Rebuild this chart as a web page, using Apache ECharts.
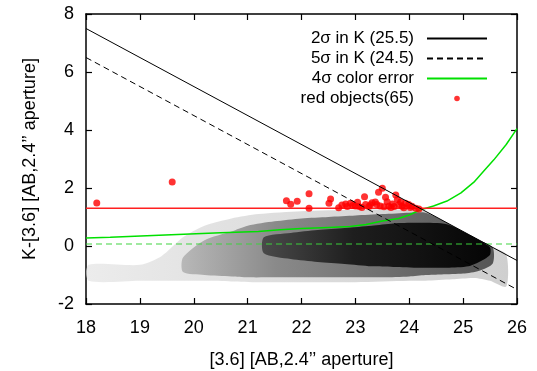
<!DOCTYPE html>
<html>
<head>
<meta charset="utf-8">
<script src="https://cdn.jsdelivr.net/npm/echarts@6/dist/echarts.min.js"></script>
<style>html,body{margin:0;padding:0;background:#fff;}#c{width:537px;height:371px;}</style>
</head>
<body>
<div id="c"></div>
<script>
// ---- data ----
var xTicks = [18, 19, 20, 21, 22, 23, 24, 25, 26];
var yTicks = [-2, 0, 2, 4, 6, 8];
// K-limit lines: K-[3.6] = K_lim - [3.6]
var limitX = [18, 26];
var limit2sig = [7.5, -0.5];   // K = 25.5
var limit5sig = [6.5, -1.5];   // K = 24.5
var redCut = 1.3;
var colorErrDashed = 0.07;
// 4 sigma colour error curve
var errX = [18.0, 18.45, 18.46, 19.47, 19.48, 20.5, 21.2, 21.6, 22.0, 22.5, 22.9, 23.2, 23.5, 23.8, 24.0, 24.2, 24.45, 24.7, 24.96, 25.2, 25.4, 25.57, 25.8, 26.0];
var errY = [0.28, 0.30, 0.36, 0.38, 0.42, 0.46, 0.50, 0.56, 0.60, 0.64, 0.67, 0.74, 0.86, 0.95, 1.07, 1.24, 1.38, 1.55, 1.83, 2.2, 2.62, 2.97, 3.5, 4.05];
// red objects
var redX = [18.2, 19.6, 21.72, 21.80, 21.92, 22.14, 22.14, 22.54, 22.51, 22.69, 22.82, 22.85, 22.91, 23.04, 23.07, 23.17, 23.19, 23.25, 23.31, 23.37, 23.40, 23.43, 23.50, 23.56, 23.59, 23.62, 23.69, 23.75, 23.78, 23.81, 23.87, 23.93, 23.99, 24.05, 24.12, 24.18, 22.95, 23.12, 23.28, 23.46, 23.66, 23.72, 23.90, 24.02, 23.00, 22.75, 23.53, 23.84];
var redY = [1.48, 2.21, 1.56, 1.44, 1.54, 1.80, 1.30, 1.62, 1.47, 1.32, 1.45, 1.36, 1.47, 1.51, 1.36, 1.70, 1.43, 1.36, 1.49, 1.52, 1.43, 1.85, 1.99, 1.68, 1.53, 1.37, 1.45, 1.76, 1.60, 1.43, 1.37, 1.47, 1.43, 1.37, 1.30, 1.28, 1.40, 1.33, 1.42, 1.38, 1.33, 1.36, 1.32, 1.33, 1.38, 1.41, 1.35, 1.52];
// density envelopes of the faint-object cloud (outer sparse, medium, dense core)
var outerX  = [18.05, 19.0, 19.4, 19.8, 20.2, 20.7, 21.2, 22.0, 23.0, 24.0, 24.3, 24.8, 25.2, 25.5, 25.8];
var outerHi = [-0.65, -0.65, -0.35, 0.3, 0.7, 0.95, 1.1, 1.2, 1.25, 1.25, 1.2, 0.7, 0.3, 0.0, -0.3];
var outerLo = [-1.2, -1.2, -1.2, -1.2, -1.2, -1.22, -1.25, -1.25, -1.25, -1.2, -1.2, -1.15, -1.1, -1.2, -1.4];
var medX  = [19.8, 20.2, 20.7, 21.0, 21.5, 22.0, 22.5, 23.0, 23.5, 24.0, 24.3, 24.6, 25.0, 25.3, 25.55];
var medHi = [-0.4, 0.2, 0.5, 0.7, 0.85, 0.95, 1.0, 1.05, 1.1, 1.15, 1.15, 0.9, 0.5, 0.2, -0.05];
var medLo = [-0.9, -1.0, -1.05, -1.08, -1.08, -1.08, -1.08, -1.08, -1.08, -1.05, -1.0, -0.98, -0.95, -0.85, -0.6];
var coreX  = [21.3, 21.8, 22.3, 22.8, 23.3, 23.7, 24.2, 24.7, 25.1, 25.35, 25.5];
var coreHi = [0.3, 0.45, 0.55, 0.62, 0.7, 0.78, 0.8, 0.75, 0.4, 0.15, -0.05];
var coreLo = [-0.25, -0.45, -0.55, -0.62, -0.7, -0.72, -0.75, -0.75, -0.7, -0.5, -0.3];

function zip(a, b) { return a.map(function (v, i) { return [v, b[i]]; }); }
function bandSeries(xs, hi, lo, fill) {
  return {
    type: 'custom', silent: true, clip: true, z: 1,
    data: [0],
    renderItem: function (params, api) {
      var pts = [];
      for (var i = 0; i < xs.length; i++) pts.push(api.coord([xs[i], hi[i]]));
      for (var j = xs.length - 1; j >= 0; j--) pts.push(api.coord([xs[j], lo[j]]));
      return { type: 'polygon', shape: { points: pts, smooth: 0.25 }, style: { fill: fill } };
    }
  };
}
function hGrad(stops) {
  return new echarts.graphic.LinearGradient(0, 0, 1, 0, stops.map(function (s) { return { offset: s[0], color: s[1] }; }));
}

var FONT = 'Liberation Sans, Arial, Helvetica, sans-serif';
var chart = echarts.init(document.getElementById('c'), null, { renderer: 'canvas' });
var axisCommon = {
  type: 'value', min: 18, max: 26, interval: 1,
  axisLine: { show: true, onZero: false, lineStyle: { color: '#000', width: 1.5 } },
  axisTick: { show: true, inside: true, length: 6, lineStyle: { color: '#000', width: 1.2 } },
  splitLine: { show: false }
};
var hideSym = { opacity: 0 };
chart.setOption({
  animation: false,
  backgroundColor: '#fff',
  grid: { left: 86, right: 20, top: 14, bottom: 67, containLabel: false, outerBoundsMode: 'none' },
  legend: {
    orient: 'vertical', right: 44, top: 25, align: 'right',
    itemWidth: 60, itemHeight: 14, itemGap: 3,
    textStyle: { fontFamily: FONT, fontSize: 17, lineHeight: 17, color: '#000', padding: [0, 8, 0, 0] },
    data: [
      { name: '2σ in K (25.5)', itemStyle: hideSym },
      { name: '5σ in K (24.5)', itemStyle: hideSym },
      { name: '4σ color error', itemStyle: hideSym },
      { name: 'red objects(65)', icon: 'path://M0,0M40,40M12,20A8,8,0,1,1,28,20A8,8,0,1,1,12,20Z', itemStyle: { color: '#ff0000' } }
    ]
  },
  xAxis: [
    Object.assign({}, axisCommon, {
      position: 'bottom',
      name: '[3.6] [AB,2.4’’ aperture]', nameLocation: 'middle', nameGap: 47,
      nameTextStyle: { fontFamily: FONT, fontSize: 18, color: '#000' },
      axisLabel: { fontFamily: FONT, fontSize: 18, color: '#000', margin: 15,
        formatter: function (v) { return xTicks.indexOf(v) >= 0 ? String(v) : ''; } }
    }),
    Object.assign({}, axisCommon, { position: 'top', axisLabel: { show: false } })
  ],
  yAxis: [
    Object.assign({}, axisCommon, {
      min: -2, max: 8, interval: 2, position: 'left',
      name: 'K-[3.6] [AB,2.4’’ aperture]', nameLocation: 'middle', nameGap: 47,
      nameTextStyle: { fontFamily: FONT, fontSize: 18, color: '#000' },
      axisLabel: { fontFamily: FONT, fontSize: 18, color: '#000', margin: 12,
        formatter: function (v) { return yTicks.indexOf(v) >= 0 ? String(v) : ''; } }
    }),
    Object.assign({}, axisCommon, { min: -2, max: 8, interval: 2, position: 'right', axisLabel: { show: false } })
  ],
  series: [
    bandSeries(outerX, outerHi, outerLo, hGrad([[0, '#ececec'], [0.3, '#e2e2e2'], [1, '#cfcfcf']])),
    bandSeries(medX, medHi, medLo, hGrad([[0, '#b8b8b8'], [0.3, '#8a8a8a'], [1, '#555']])),
    bandSeries(coreX, coreHi, coreLo, hGrad([[0, '#4a4a4a'], [0.4, '#1e1e1e'], [1, '#050505']])),
    {
      name: 'colordash', type: 'line', symbol: 'none', silent: true, z: 3,
      data: zip(limitX, [colorErrDashed, colorErrDashed]),
      lineStyle: { color: 'rgba(60,210,60,0.65)', width: 1.5, type: [6, 4] }
    },
    {
      name: '4σ color error', type: 'line', symbol: 'none', z: 4,
      data: zip(errX, errY),
      lineStyle: { color: '#00e000', width: 1.5 }, itemStyle: { color: '#00e000' }
    },
    {
      name: 'redcut', type: 'line', symbol: 'none', silent: true, z: 4,
      data: zip(limitX, [redCut, redCut]),
      lineStyle: { color: '#ff2020', width: 1.5 }
    },
    {
      name: 'red objects(65)', type: 'scatter', symbol: 'circle', symbolSize: 7, z: 5,
      data: zip(redX, redY), itemStyle: { color: '#ff0000' }
    },
    {
      name: '2σ in K (25.5)', type: 'line', symbol: 'none', z: 6,
      data: zip(limitX, limit2sig),
      lineStyle: { color: '#000', width: 1 }, itemStyle: { color: '#000' }
    },
    {
      name: '5σ in K (24.5)', type: 'line', symbol: 'none', z: 6,
      data: zip(limitX, limit5sig),
      lineStyle: { color: '#000', width: 1, type: [6, 4] }, itemStyle: { color: '#000' }
    }
  ]
});
</script>
</body>
</html>
